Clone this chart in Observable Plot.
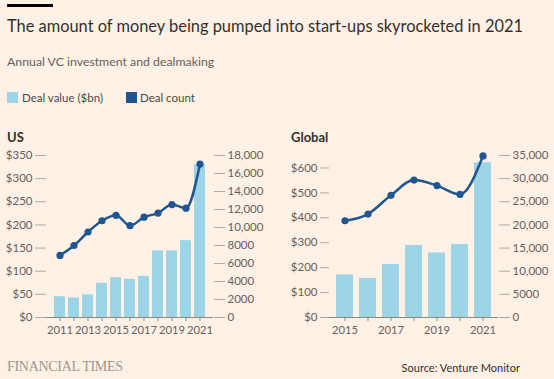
<!DOCTYPE html>
<html>
<head>
<meta charset="utf-8">
<script src="https://cdn.jsdelivr.net/npm/d3@7"></script>
<script src="https://cdn.jsdelivr.net/npm/@observablehq/plot@0.6"></script>
<style>
  html, body { margin: 0; padding: 0; }
  body { width: 554px; height: 379px; background: #FFF1E5; position: relative; overflow: hidden; font-family: Lato, "Open Sans", sans-serif; color: #33302e; }
  .abs { position: absolute; white-space: nowrap; line-height: 1; }
  #bar { left: 7px; top: 4px; width: 46px; height: 3px; background: #000; }
  #title { left: 7px; top: 18px; font-size: 16.4px; color: #33302e; }
  #subtitle { left: 7px; top: 56px; font-size: 12.3px; color: #66605c; }
  .sw { position: absolute; width: 11px; height: 11px; top: 92px; }
  .lg { top: 92px; font-size: 11.5px; color: #4d4845; }
  .ptitle { top: 131px; font-size: 13px; font-weight: bold; color: #33302e; }
  #ft { left: 7px; top: 360px; font-family: "Liberation Serif", serif; font-size: 14px; color: #9e958c; letter-spacing: -0.3px; }
  #source { right: 34px; top: 362px; font-size: 11px; color: #33302e; }
  .panel { position: absolute; top: 145px; }
</style>
</head>
<body>
<div id="bar" class="abs"></div>
<div id="title" class="abs">The amount of money being pumped into start-ups skyrocketed in 2021</div>
<div id="subtitle" class="abs">Annual VC investment and dealmaking</div>
<div class="sw" style="left:7px;background:#9dd5e6"></div>
<div class="abs lg" style="left:22px">Deal value ($bn)</div>
<div class="sw" style="left:126px;background:#1f5590"></div>
<div class="abs lg" style="left:140px">Deal count</div>
<div class="abs ptitle" style="left:7px">US</div>
<div class="abs ptitle" style="left:291px">Global</div>
<div id="usPanel" class="panel" style="left:0px"></div>
<div id="glPanel" class="panel" style="left:277px"></div>
<div id="ft" class="abs">FINANCIAL TIMES</div>
<div id="source" class="abs">Source: Venture Monitor</div>
<script>
// ---- Data ----
const usYears = [2011, 2012, 2013, 2014, 2015, 2016, 2017, 2018, 2019, 2020, 2021];
const usDealValue = [45, 42, 49, 74, 86, 82.5, 89, 144, 144, 166, 330];
const usDealCount = [6900, 8000, 9500, 10750, 11350, 10200, 11150, 11600, 12550, 12150, 17050];

const globalYears = [2015, 2016, 2017, 2018, 2019, 2020, 2021];
const globalDealValue = [171, 157, 213, 289, 259, 293, 621];
const globalDealCount = [20900, 22350, 26400, 29700, 28500, 26600, 34900];

const usValueTicks = [0, 50, 100, 150, 200, 250, 300, 350];
const usCountTicks = [0, 2000, 4000, 6000, 8000, 10000, 12000, 14000, 16000, 18000];
const globalValueTicks = [0, 100, 200, 300, 400, 500, 600];
const globalCountTicks = [0, 5000, 10000, 15000, 20000, 25000, 30000, 35000];

// ---- Styles ----
const barColor = "#9dd5e6";
const lineColor = "#1f5590";
const tickColor = "#b3a9a0";
const labelColor = "#66605c";
const font = "Lato, 'Open Sans', sans-serif";

const fmtCount = d => d >= 10000 ? d3.format(",")(d) : String(d);

function panel({years, values, counts, valueTicks, countTicks, valueMax, countMax, marginLeft, marginRight, leftTickSize}) {
  const k = valueMax / countMax; // converts count to value-axis units
  const data = years.map((y, i) => ({year: y, value: values[i], count: counts[i]}));
  return Plot.plot({
    width: 277,
    height: 200,
    marginTop: 10,
    marginBottom: 28,
    marginLeft,
    marginRight,
    style: {background: "transparent", fontFamily: font, fontSize: "11px", color: labelColor, overflow: "visible"},
    x: {type: "band", domain: years, padding: 0.25, axis: null},
    y: {domain: [0, valueMax], axis: null},
    marks: [
      Plot.barY(data, {x: "year", y: "value", fill: barColor}),
      Plot.axisY({anchor: "left", ticks: valueTicks, tickFormat: d => "$" + d, tickSize: leftTickSize, tickPadding: 3, stroke: tickColor, fill: labelColor, label: null, fontSize: 11.5}),
      Plot.axisY({anchor: "right", ticks: countTicks.map(c => c * k), tickFormat: d => fmtCount(Math.round(d / k)), tickSize: 11, tickPadding: 3, stroke: tickColor, fill: labelColor, label: null, fontSize: 11.5}),
      Plot.ruleY([0], {stroke: "#8f8780", strokeWidth: 1}),
      Plot.axisX({anchor: "bottom", tickSize: 4, tickPadding: 5, tickFormat: d => d % 2 === 1 ? String(d) : "", stroke: "#8f8780", fill: labelColor, label: null, fontSize: 11.2}),
      Plot.line(data, {x: "year", y: d => d.count * k, stroke: lineColor, strokeWidth: 2.5, curve: "monotone-x"}),
      Plot.dot(data, {x: "year", y: d => d.count * k, r: 3.6, fill: lineColor, stroke: "none"})
    ]
  });
}

document.getElementById("usPanel").append(panel({
  years: usYears, values: usDealValue, counts: usDealCount,
  valueTicks: usValueTicks, countTicks: usCountTicks,
  valueMax: 350, countMax: 18000, marginLeft: 46, marginRight: 64, leftTickSize: 11
}));
document.getElementById("glPanel").append(panel({
  years: globalYears, values: globalDealValue, counts: globalDealCount,
  valueTicks: globalValueTicks, countTicks: globalCountTicks,
  valueMax: 650, countMax: 35000, marginLeft: 52, marginRight: 56, leftTickSize: 9
}));
</script>
</body>
</html>
